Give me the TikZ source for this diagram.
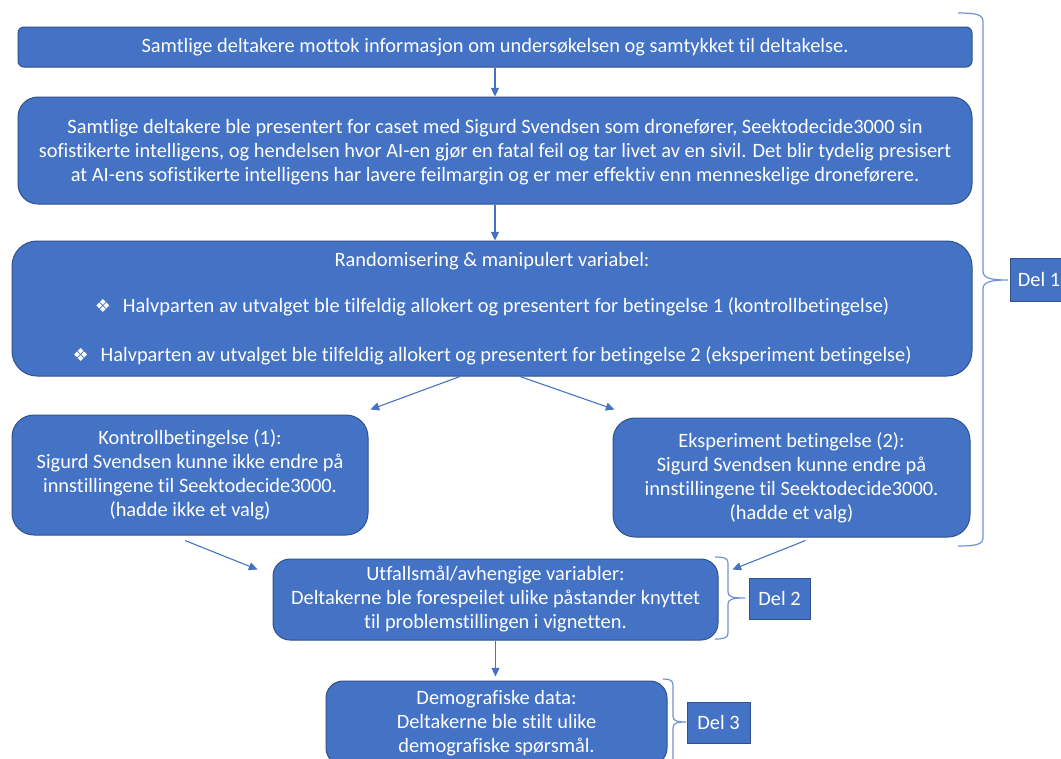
\documentclass[tikz,border=0pt]{standalone}
\usepackage{fontspec}
\setmainfont{Carlito}[Ligatures={NoCommon}]
\newfontfamily\symfont{DejaVu Sans}
\usetikzlibrary{arrows.meta}
\definecolor{boxfill}{HTML}{4472C4}
\definecolor{boxline}{HTML}{2F528F}
\definecolor{arrowc}{HTML}{4472C4}
\definecolor{bracec}{HTML}{6F93D3}
\newcommand{\bul}{{\symfont\fontsize{13.5pt}{13.5pt}\selectfont ❖}\hspace{9pt}}
\tikzset{
  flowbox/.style={draw=boxline, line width=0.75pt, fill=boxfill, text=white, rectangle, align=center, inner sep=0pt,
    font=\fontsize{15.3pt}{18pt}\selectfont},
  delbox/.style={draw=boxline, line width=0.75pt, fill=boxfill, text=white, rectangle, inner sep=0pt,
    font=\fontsize{15.3pt}{18pt}\selectfont},
  conn/.style={draw=arrowc, line width=0.8pt, -{Triangle[length=6.5pt,width=6pt]}},
  bracepath/.style={draw=bracec, line width=0.9pt}
}
\begin{document}
\begin{tikzpicture}[x=0.75pt,y=-0.75pt]
\path[use as bounding box, clip] (0,0) rectangle (1061,758);
\fill[white] (0,0) rectangle (1061,758);

\node[flowbox, rounded corners=4.5pt, minimum width=715.5pt, minimum height=30pt] (b1) at (495,47)
  {Samtlige deltakere mottok informasjon om undersøkelsen og samtykket til deltakelse.};

\node[flowbox, rounded corners=15pt, minimum width=715.5pt, minimum height=80.25pt] (b2) at (495,150.5)
  {\rule{0pt}{13pt}Samtlige deltakere ble presentert for caset med Sigurd Svendsen som dronefører, Seektodecide3000 sin\\
   sofistikerte intelligens, og hendelsen hvor AI-en gjør en fatal feil og tar livet av en sivil. Det blir tydelig presisert\\
   at AI-ens sofistikerte intelligens har lavere feilmargin og er mer effektiv enn menneskelige droneførere.};

\node[flowbox, rounded corners=18.75pt, minimum width=720pt, minimum height=101.25pt] (b3) at (492,308.5)
  {Randomisering \& manipulert variabel:\\[17pt]
   \bul Halvparten av utvalget ble tilfeldig allokert og presentert for betingelse 1 (kontrollbetingelse)\\[18.5pt]
   \bul Halvparten av utvalget ble tilfeldig allokert og presentert for betingelse 2 (eksperiment betingelse)};

\node[flowbox, rounded corners=16.5pt, minimum width=267pt, minimum height=90pt] (b4) at (190,475)
  {Kontrollbetingelse (1):\\
   Sigurd Svendsen kunne ikke endre på\\
   innstillingene til Seektodecide3000.\\
   (hadde ikke et valg)};

\node[flowbox, rounded corners=16.5pt, minimum width=267.75pt, minimum height=89.25pt] (b5) at (791.5,477.5)
  {Eksperiment betingelse (2):\\
   Sigurd Svendsen kunne endre på\\
   innstillingene til Seektodecide3000.\\
   (hadde et valg)};

\node[flowbox, rounded corners=12.75pt, minimum width=333.75pt, minimum height=60.75pt] (b6) at (495.5,599.5)
  {Utfallsmål/avhengige variabler:\\
   Deltakerne ble forespeilet ulike påstander knyttet\\
   til problemstillingen i vignetten.};

\node[flowbox, rounded corners=12.75pt, minimum width=255.75pt, minimum height=63pt] (b7) at (496.5,723)
  {Demografiske data:\\
   Deltakerne ble stilt ulike\\
   demografiske spørsmål.};

\node[delbox, minimum width=43.5pt, minimum height=32.25pt] (d1) at (1039,279.5) {Del 1};
\node[delbox, minimum width=45.75pt, minimum height=30.75pt] (d2) at (779.5,598.5) {Del 2};
\node[delbox, minimum width=47.25pt, minimum height=30.75pt] (d3) at (718.5,722.5) {Del 3};

% connectors
\draw[conn] (b1.south) -- (b2.north);
\draw[conn] (b2.south) -- (b2.south |- b3.north);
\draw[conn] ([xshift=-24pt]b3.south) -- ([shift={(2,-5)}]b4.north east);
\draw[conn] ([xshift=21pt]b3.south) -- ([shift={(2,-8)}]b5.north west);
\draw[conn] ([shift={(-5,5)}]b4.south) -- ([shift={(-15,11)}]b6.north west);
\draw[conn] ([shift={(-165,3)}]b5.south east) -- ([shift={(14,11)}]b6.north east);
\draw[conn] (b6.south) -- ([yshift=3pt]b6.south |- b7.north);

% braces
\draw[bracepath] (958,13) .. controls (978,13) and (983,15) .. (983,22) -- (983,271)
  .. controls (983,278) and (990,280) .. (1008,280)
  .. controls (990,280) and (983,282) .. (983,289) -- (983,537)
  .. controls (983,544) and (978,546) .. (958,546);
\draw[bracepath] (715,557) .. controls (724,557) and (728,558) .. (728,563) -- (728,592)
  .. controls (728,597) and (733,598) .. (745,598)
  .. controls (733,598) and (728,599) .. (728,604) -- (728,633)
  .. controls (728,638) and (724,639) .. (715,639);
\draw[bracepath] (663,679) .. controls (669,679) and (673,680) .. (673,685) -- (673,716)
  .. controls (673,721) and (677,722) .. (686,722)
  .. controls (677,722) and (673,723) .. (673,728) -- (673,790);
\end{tikzpicture}
\end{document}
